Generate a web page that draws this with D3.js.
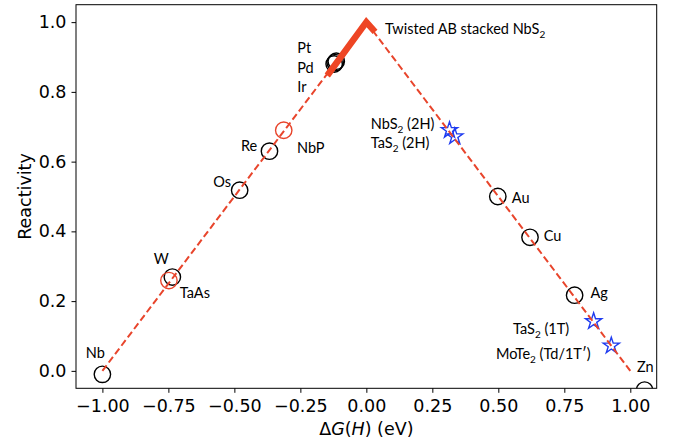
<!DOCTYPE html>
<html><head><meta charset="utf-8">
<script src="https://cdn.jsdelivr.net/npm/d3@7"></script>
<style>body{margin:0;background:#fff}</style>
</head><body>
<svg id="c" width="677" height="445"></svg>
<script>
// ---- data ----
const metals = [
  {name:"Nb", x:-1.0, y:-0.01},
  {name:"W", x:-0.735, y:0.269},
  {name:"Os", x:-0.48, y:0.518},
  {name:"Re", x:-0.367, y:0.630},
  {name:"Pt", x:-0.122, y:0.880},
  {name:"Pd", x:-0.118, y:0.884},
  {name:"Ir", x:-0.114, y:0.888},
  {name:"Au", x:0.498, y:0.50},
  {name:"Cu", x:0.620, y:0.383},
  {name:"Ag", x:0.789, y:0.217},
  {name:"Zn", x:1.054, y:-0.055}
];
const semimetals = [
  {name:"TaAs", x:-0.748, y:0.259},
  {name:"NbP", x:-0.313, y:0.690}
];
const tmds = [
  {name:"NbS2 (2H)", x:0.315, y:0.690},
  {name:"TaS2 (2H)", x:0.335, y:0.672},
  {name:"TaS2 (1T)", x:0.861, y:0.142},
  {name:"MoTe2 (Td/1T')", x:0.928, y:0.072}
];
const volcanoLeft = [[-1.0, 0.0],[0.0, 1.0]];
const volcanoRight = [[0.0, 1.0],[1.0, 0.0]];
const twisted = [[-0.148, 0.847],[0.0, 1.0],[0.033, 0.972]];
const xTicks = [-1.0,-0.75,-0.5,-0.25,0,0.25,0.5,0.75,1.0];
const yTicks = [0,0.2,0.4,0.6,0.8,1.0];
const labels = [
  {t:[["Twisted AB stacked NbS"],["2","sub"]], x:0.071, y:0.965},
  {t:[["Pt"]], x:-0.262, y:0.912},
  {t:[["Pd"]], x:-0.262, y:0.855},
  {t:[["Ir"]], x:-0.262, y:0.799},
  {t:[["Re"]], x:-0.475, y:0.630},
  {t:[["NbP"]], x:-0.263, y:0.624},
  {t:[["Os"]], x:-0.580, y:0.526},
  {t:[["W"]], x:-0.805, y:0.306},
  {t:[["TaAs"]], x:-0.707, y:0.210},
  {t:[["Nb"]], x:-1.063, y:0.036},
  {t:[["NbS"],["2","sub"],[" (2H)"]], x:0.017, y:0.693},
  {t:[["TaS"],["2","sub"],[" (2H)"]], x:0.017, y:0.640},
  {t:[["Au"]], x:0.551, y:0.481},
  {t:[["Cu"]], x:0.672, y:0.372},
  {t:[["Ag"]], x:0.849, y:0.210},
  {t:[["TaS"],["2","sub"],[" (1T)"]], x:0.556, y:0.105},
  {t:[["MoTe"],["2","sub"],[" (Td/1T\u2032)"]], x:0.491, y:0.034},
  {t:[["Zn"]], x:1.025, y:-0.003}
];

// ---- layout ----
const svg = d3.select("#c");
const L=76, R=656.7, T=4.7, B=388.3;
const x = d3.scaleLinear().domain([-1.1, 1.1]).range([L, R]);
const y = d3.scaleLinear().domain([-0.05, 1.05]).range([B, T]);
const RED = "#e8452c";

svg.append("defs").append("clipPath").attr("id","clip")
  .append("rect").attr("x",L).attr("y",T).attr("width",R-L).attr("height",B-T);

const plot = svg.append("g").attr("clip-path","url(#clip)");
const line = d3.line().x(d=>x(d[0])).y(d=>y(d[1]));

// metal circles
plot.selectAll("circle.m").data(metals).join("circle")
  .attr("class","m")
  .attr("cx",d=>x(d.x)).attr("cy",d=>y(d.y)).attr("r",8.2)
  .attr("fill","none").attr("stroke","#000").attr("stroke-width",1.4);
plot.selectAll("circle.s").data(semimetals).join("circle")
  .attr("class","s")
  .attr("cx",d=>x(d.x)).attr("cy",d=>y(d.y)).attr("r",8.2)
  .attr("fill","none").attr("stroke",RED).attr("stroke-width",1.4);

// stars
const star = d3.symbol().type(d3.symbolStar).size(82);
plot.selectAll("path.star").data(tmds).join("path")
  .attr("class","star")
  .attr("transform",d=>`translate(${x(d.x)},${y(d.y)})`)
  .attr("d",star).attr("fill","none").attr("stroke","#1f3cf0").attr("stroke-width",1.4);

// volcano dashed lines
[volcanoLeft, volcanoRight].forEach(seg=>{
  plot.append("path").attr("d",line(seg)).attr("fill","none")
    .attr("stroke",RED).attr("stroke-width",2).attr("stroke-dasharray","7,3.5");
});

// twisted thick line
plot.append("path").attr("d",line(twisted)).attr("fill","none")
  .attr("stroke","#ee4524").attr("stroke-width",6.5).attr("stroke-linejoin","miter");

// frame
svg.append("rect").attr("x",L).attr("y",T).attr("width",R-L).attr("height",B-T)
  .attr("fill","none").attr("stroke","#000").attr("stroke-width",1);

// axes
const fmtX = d=> d3.format(".2f")(d).replace("-","\u2212");
const fmtY = d=> d3.format(".1f")(d);
const xa = svg.append("g").attr("transform",`translate(0,${B})`)
  .call(d3.axisBottom(x).tickValues(xTicks).tickFormat(fmtX).tickSize(4.5).tickPadding(7));
const ya = svg.append("g").attr("transform",`translate(${L},0)`)
  .call(d3.axisLeft(y).tickValues(yTicks).tickFormat(fmtY).tickSize(4.5).tickPadding(5));
[xa,ya].forEach(a=>{
  a.select(".domain").remove();
  a.selectAll("text").attr("font-family","DejaVu Sans").attr("font-size",17.5).attr("fill","#000");
  a.selectAll("line").attr("stroke","#000");
});

// axis titles
const xt = svg.append("text").attr("x",(L+R)/2).attr("y",435).attr("text-anchor","middle")
  .attr("font-family","DejaVu Sans").attr("font-size",17.5);
xt.append("tspan").text("\u0394");
xt.append("tspan").attr("font-style","italic").text("G");
xt.append("tspan").text("(");
xt.append("tspan").attr("font-style","italic").text("H");
xt.append("tspan").text(") (eV)");
svg.append("text").attr("transform",`translate(31,${(T+B)/2}) rotate(-90)`)
  .attr("text-anchor","middle").attr("font-family","DejaVu Sans").attr("font-size",17.5)
  .text("Reactivity");

// annotations
labels.forEach(l=>{
  const t = svg.append("text").attr("x",x(l.x)).attr("y",y(l.y))
    .attr("font-family","Lato").attr("font-size",14.5).attr("fill","#000");
  let sub=false;
  l.t.forEach(p=>{
    const s = t.append("tspan").text(p[0]);
    if(p[1]==="sub"){ s.attr("font-size",10).attr("dy",4); sub=true; }
    else if(sub){ s.attr("dy",-4); sub=false; }
  });
});
</script>
</body></html>
